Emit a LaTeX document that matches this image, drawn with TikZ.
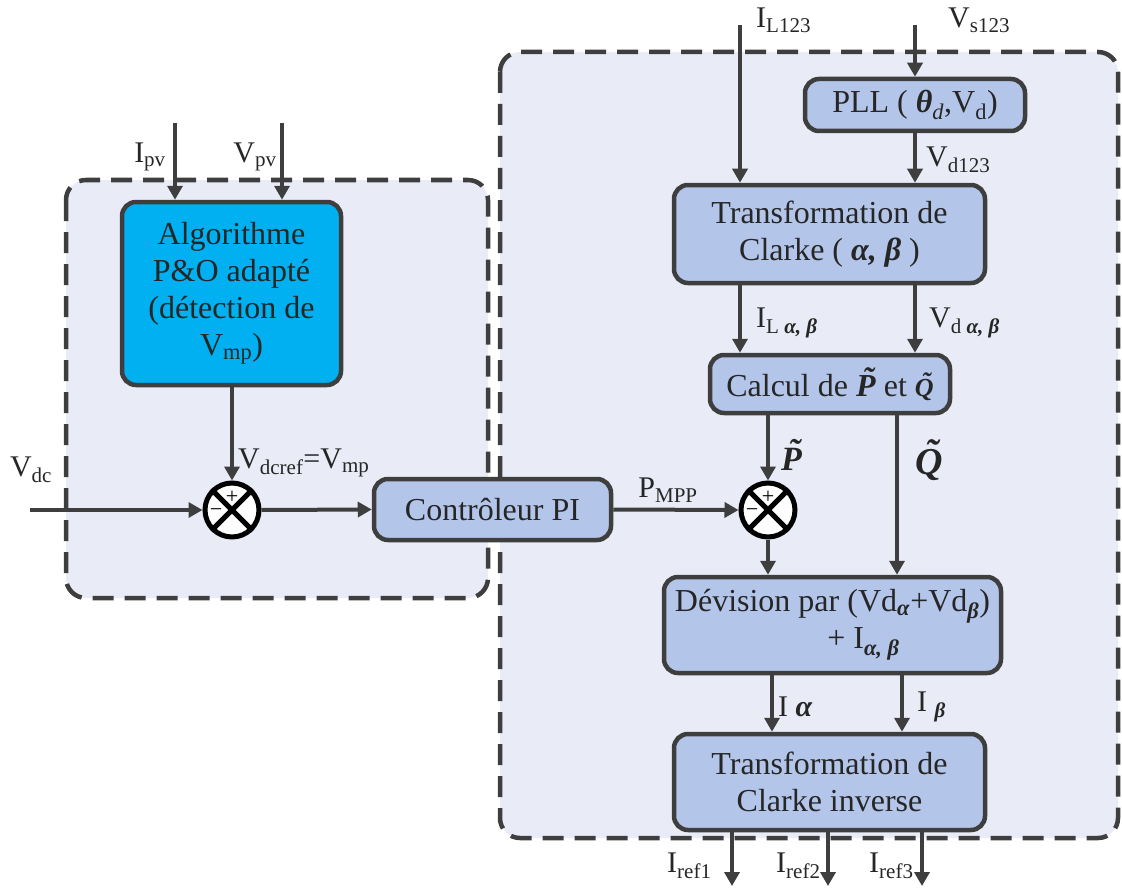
\documentclass[tikz,border=0pt]{standalone}
\usepackage{fontspec}
\setmainfont{Liberation Serif}
\usetikzlibrary{arrows.meta}
\definecolor{boxfill}{HTML}{B4C5EA}
\definecolor{bgfill}{HTML}{E9ECF6}
\definecolor{cyanfill}{HTML}{00B0F0}
\definecolor{edge}{HTML}{3E3E3E}
\newcommand\bgr[1]{\textbf{\textit{#1}}}
\newlength\tldw
\newcommand\tld[1]{\settowidth\tldw{\bgr{#1}}\rlap{\bgr{#1}}\makebox[\tldw]{\hspace{0.2em}\raisebox{0.22em}{\bgr{˜}}}}
\begin{document}
\begin{tikzpicture}[x=1pt,y=-1pt,
 blk/.style={draw=edge, line width=4.5pt, fill=boxfill, rounded corners=14pt, align=center, font=\fontsize{32}{37}\selectfont, inner sep=0pt, text=black!85},
 zone/.style={draw=edge, line width=4.5pt, fill=bgfill, rounded corners=20pt, dash pattern=on 21pt off 11pt},
 arr/.style={draw=edge, line width=4pt, -{Triangle[length=14pt,width=15pt]}},
 lbl/.style={font=\fontsize{30}{33}\selectfont, inner sep=0pt, text=black!85},
 sumj/.style={circle, draw=black, line width=5pt, fill=white, minimum size=54pt, inner sep=0pt},
 xline/.style={draw=black, line width=5pt},
 sgn/.style={font=\fontsize{22}{24}\selectfont, inner sep=0pt}]
\useasboundingbox (0,0) rectangle (1122,888);
% zones
\path[zone] (500,52) rectangle (1118,838);
\path[zone] (66,180) rectangle (488,598);
% blocks
\node[blk, fill=cyanfill, minimum width=219pt, minimum height=183pt] (algo) at (231.5,293.5) {Algorithme\\P\&O adapté\\(détection de\\V\textsubscript{mp})};
\node[blk, minimum width=237pt, minimum height=61pt] (pi) at (492.5,509.5) {Contrôleur PI};
\node[blk, minimum width=220pt, minimum height=52pt] (pll) at (915,105) {PLL ( \bgr{θ}\textsubscript{\textit{d}},V\textsubscript{d})};
\node[blk, minimum width=311pt, minimum height=98pt] (clarke) at (829.5,234) {Transformation de\\Clarke ( \bgr{α, β} )};
\node[blk, minimum width=240pt, minimum height=58pt] (calc) at (830,384) {Calcul de \tld{P} et {\fontsize{26}{28}\selectfont\tld{Q}}};
\node[blk, minimum width=337pt, minimum height=96pt] (dev) at (832.5,625) {Dévision par (Vd\textsubscript{\bgr{α}}+Vd\textsubscript{\bgr{β}})\\\hspace*{62pt}+ I\textsubscript{\bgr{α, β}}};
\node[blk, minimum width=311pt, minimum height=96pt] (inv) at (829.5,782) {Transformation de\\Clarke inverse};
% summing junctions
\node[sumj] (s1) at (232,510) {};
\node[sumj] (s2) at (768,510) {};
\foreach \s in {s1,s2}{
  \draw[xline] (\s.north west) -- (\s.south east);
  \draw[xline] (\s.north east) -- (\s.south west);
  \node[sgn] at ([yshift=13pt]\s.center) {+};
  \node[sgn] at ([xshift=-16pt,yshift=-3pt]\s.center) {−};
}
% coordinates
\coordinate (ipv) at (175,123);
\coordinate (vpv) at (282,123);
\coordinate (vdc) at (30,510);
\coordinate (ilin) at (740,25);
\coordinate (vsin) at (915,25);
\coordinate (qx) at (897,0);
\coordinate (ia) at (772,0);
\coordinate (ib) at (902,0);
\coordinate (o1) at (732,886);
\coordinate (o2) at (828,886);
\coordinate (o3) at (922,886);
% connectors
\draw[arr] (ipv) -- (ipv |- algo.north);
\draw[arr] (vpv) -- (vpv |- algo.north);
\draw[arr] (s1 |- algo.south) -- (s1.north);
\draw[arr] (vdc) -- (s1.west);
\draw[arr] (s1.east) -- (pi.west);
\draw[arr] (pi.east) -- (s2.west);
\draw[arr] (vsin) -- (pll.north);
\draw[arr] (ilin) -- (ilin |- clarke.north);
\draw[arr] (pll.south) -- (pll.south |- clarke.north);
\draw[arr] (ilin |- clarke.south) -- (ilin |- calc.north);
\draw[arr] (pll.south |- clarke.south) -- (pll.south |- calc.north);
\draw[arr] (s2 |- calc.south) -- (s2.north);
\draw[arr] (qx |- calc.south) -- (qx |- dev.north);
\draw[arr] (s2.south) -- (s2 |- dev.north);
\draw[arr] (ia |- dev.south) -- (ia |- inv.north);
\draw[arr] (ib |- dev.south) -- (ib |- inv.north);
\draw[arr] (o1 |- inv.south) -- (o1);
\draw[arr] (o2 |- inv.south) -- (o2);
\draw[arr] (o3 |- inv.south) -- (o3);
% labels
\node[lbl] (lipv) at (150,157) {I\textsubscript{pv}};
\node[lbl] (lvpv) at (255,157) {V\textsubscript{pv}};
\node[lbl] (lvdc) at (31,470) {V\textsubscript{dc}};
\node[lbl, anchor=west] (lvref) at (238,463) {V\textsubscript{dcref}=V\textsubscript{mp}};
\node[lbl] (lpmpp) at (668,490) {P\textsubscript{MPP}};
\node[lbl, anchor=west] (lil) at (756,20) {I\textsubscript{L123}};
\node[lbl, anchor=west] (lvs) at (948,20) {V\textsubscript{s123}};
\node[lbl, anchor=west] (lvd) at (926,160) {V\textsubscript{d123}};
\node[lbl, anchor=west] (lilab) at (756,323) {I\textsubscript{L \bgr{α, β}}};
\node[lbl, anchor=west] (lvdab) at (929,323) {V\textsubscript{d \bgr{α, β}}};
\node[lbl, anchor=west, font=\fontsize{34}{36}\selectfont] (lp) at (781,455) {\tld{P}};
\node[lbl, anchor=west, font=\fontsize{38}{40}\selectfont] (lq) at (915,460) {\tld{Q}};
\node[lbl, anchor=west] (lia) at (778,707) {I \bgr{α}};
\node[lbl, anchor=west] (lib) at (917,707) {I \textsubscript{\bgr{β}}};
\node[lbl, anchor=west] (lr1) at (667,866) {I\textsubscript{ref1}};
\node[lbl, anchor=west] (lr2) at (776,866) {I\textsubscript{ref2}};
\node[lbl, anchor=west] (lr3) at (869,866) {I\textsubscript{ref3}};
\end{tikzpicture}
\end{document}
